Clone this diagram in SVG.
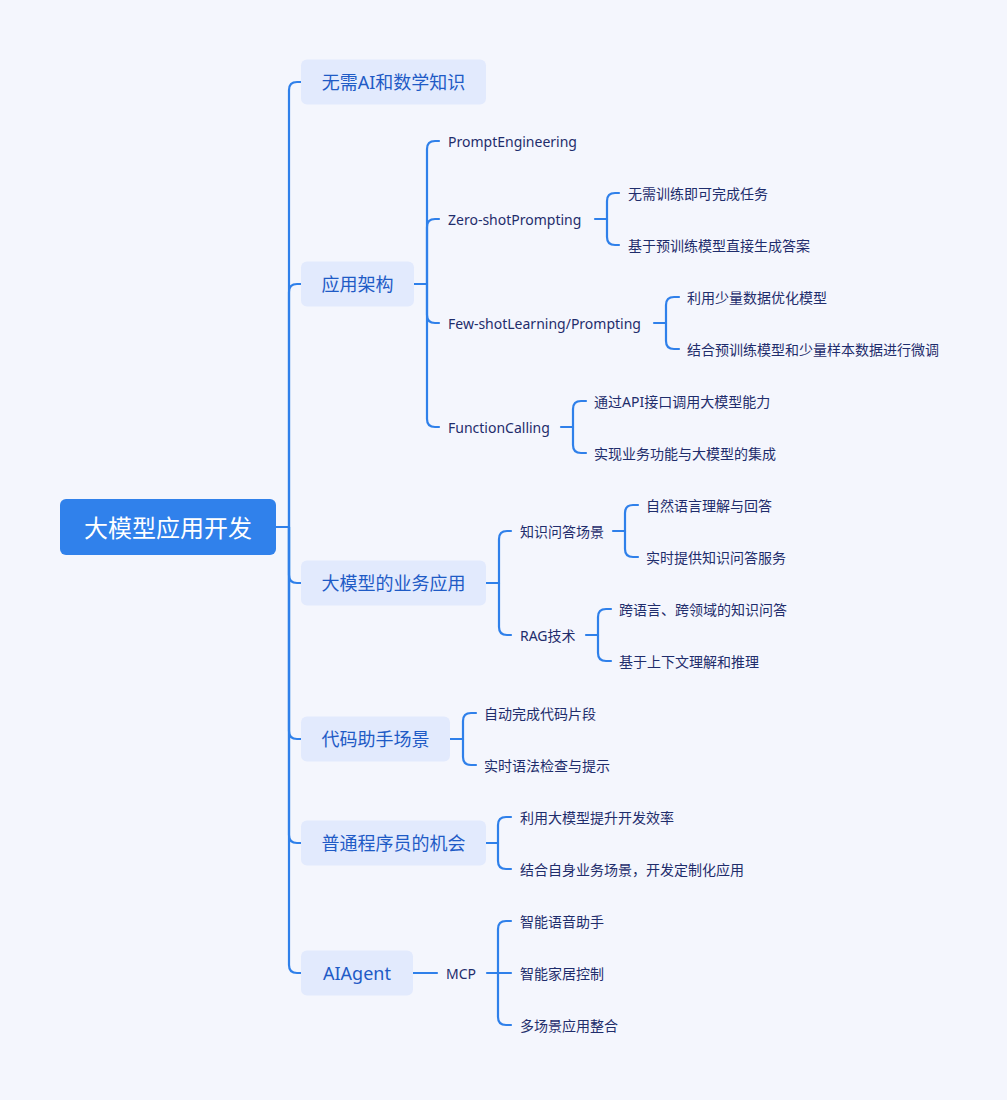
<svg xmlns="http://www.w3.org/2000/svg" width="1007" height="1100" viewBox="0 0 1007 1100">
<style>
.bg{fill:#f4f6fd}
.root{fill:#3081eb}
.box{fill:#e2eafd}
.rt{font-family:"Noto Sans","Noto Sans CJK SC",sans-serif;font-size:24px;fill:#ffffff;text-anchor:middle;dominant-baseline:central}
.l1{font-family:"Noto Sans","Noto Sans CJK SC",sans-serif;font-size:18px;fill:#1f5bc6;text-anchor:middle;dominant-baseline:central}
.lf{font-family:"Noto Sans","Noto Sans CJK SC",sans-serif;font-size:14px;fill:#1f2d6c;dominant-baseline:central}
.ln{fill:none;stroke:#2f80ea;stroke-width:2.2;stroke-linecap:round}
</style>
<rect class="bg" x="0" y="0" width="1007" height="1100"/>
<g id="connectors">
<!-- root to level 1 -->
<path class="ln" d="M276,527 H289"/>
<path class="ln" d="M289,527 V90 Q289,82 297,82 H301"/>
<path class="ln" d="M289,527 V292 Q289,284 297,284 H301"/>
<path class="ln" d="M289,527 V575 Q289,583 297,583 H301"/>
<path class="ln" d="M289,527 V731 Q289,739 297,739 H301"/>
<path class="ln" d="M289,527 V835 Q289,843 297,843 H301"/>
<path class="ln" d="M289,527 V965 Q289,973 297,973 H301"/>
<!-- 应用架构 -->
<path class="ln" d="M414,284 H427"/>
<path class="ln" d="M427,284 V149 Q427,141 435,141 H439"/>
<path class="ln" d="M427,284 V227 Q427,219 435,219 H439"/>
<path class="ln" d="M427,284 V315 Q427,323 435,323 H439"/>
<path class="ln" d="M427,284 V419 Q427,427 435,427 H439"/>
<!-- Zero-shot -->
<path class="ln" d="M595,219 H607"/>
<path class="ln" d="M607,219 V201 Q607,193 615,193 H619"/>
<path class="ln" d="M607,219 V237 Q607,245 615,245 H619"/>
<!-- Few-shot -->
<path class="ln" d="M654,323 H666"/>
<path class="ln" d="M666,323 V305 Q666,297 674,297 H679"/>
<path class="ln" d="M666,323 V341 Q666,349 674,349 H679"/>
<!-- FunctionCalling -->
<path class="ln" d="M561,427 H573"/>
<path class="ln" d="M573,427 V409 Q573,401 581,401 H586"/>
<path class="ln" d="M573,427 V445 Q573,453 581,453 H586"/>
<!-- 业务应用 -->
<path class="ln" d="M486,583 H499"/>
<path class="ln" d="M499,583 V539 Q499,531 507,531 H511"/>
<path class="ln" d="M499,583 V627 Q499,635 507,635 H511"/>
<!-- 知识问答场景 -->
<path class="ln" d="M613,531 H625"/>
<path class="ln" d="M625,531 V513 Q625,505 633,505 H638"/>
<path class="ln" d="M625,531 V549 Q625,557 633,557 H638"/>
<!-- RAG技术 -->
<path class="ln" d="M586,635 H598"/>
<path class="ln" d="M598,635 V617 Q598,609 606,609 H611"/>
<path class="ln" d="M598,635 V653 Q598,661 606,661 H611"/>
<!-- 代码助手场景 -->
<path class="ln" d="M450,739 H463"/>
<path class="ln" d="M463,739 V721 Q463,713 471,713 H476"/>
<path class="ln" d="M463,739 V757 Q463,765 471,765 H476"/>
<!-- 普通程序员的机会 -->
<path class="ln" d="M486,843 H498"/>
<path class="ln" d="M498,843 V825 Q498,817 506,817 H511"/>
<path class="ln" d="M498,843 V861 Q498,869 506,869 H511"/>
<!-- AIAgent -->
<path class="ln" d="M413,973 H437"/>
<path class="ln" d="M487,973 H498"/>
<path class="ln" d="M498,973 V929 Q498,921 506,921 H511"/>
<path class="ln" d="M498,973 H511"/>
<path class="ln" d="M498,973 V1017 Q498,1025 506,1025 H511"/>
</g>
<g id="root"><rect class="root" x="60" y="499" width="216" height="56" rx="6"/><text class="rt" x="168" y="527">大模型应用开发</text></g>
<g id="n1"><rect class="box" x="301" y="59.5" width="185" height="45" rx="6"/><text class="l1" x="393.5" y="82">无需AI和数学知识</text></g>
<g id="n2"><rect class="box" x="301" y="261.5" width="113" height="45" rx="6"/><text class="l1" x="357.5" y="284">应用架构</text></g>
<g id="n3"><rect class="box" x="301" y="560.5" width="185" height="45" rx="6"/><text class="l1" x="393.5" y="583">大模型的业务应用</text></g>
<g id="n4"><rect class="box" x="301" y="716.5" width="149" height="45" rx="6"/><text class="l1" x="375.5" y="739">代码助手场景</text></g>
<g id="n5"><rect class="box" x="301" y="820.5" width="185" height="45" rx="6"/><text class="l1" x="393.5" y="843">普通程序员的机会</text></g>
<g id="n6"><rect class="box" x="301" y="950.5" width="112" height="45" rx="6"/><text class="l1" x="357" y="973">AIAgent</text></g>
<g id="n2a"><text class="lf" x="448" y="141">PromptEngineering</text></g>
<g id="n2b"><text class="lf" x="448" y="219">Zero-shotPrompting</text></g>
<g id="n2b1"><text class="lf" x="628" y="193">无需训练即可完成任务</text></g>
<g id="n2b2"><text class="lf" x="628" y="245">基于预训练模型直接生成答案</text></g>
<g id="n2c"><text class="lf" x="448" y="323">Few-shotLearning/Prompting</text></g>
<g id="n2c1"><text class="lf" x="687" y="297">利用少量数据优化模型</text></g>
<g id="n2c2"><text class="lf" x="687" y="349">结合预训练模型和少量样本数据进行微调</text></g>
<g id="n2d"><text class="lf" x="448" y="427">FunctionCalling</text></g>
<g id="n2d1"><text class="lf" x="594" y="401">通过API接口调用大模型能力</text></g>
<g id="n2d2"><text class="lf" x="594" y="453">实现业务功能与大模型的集成</text></g>
<g id="n3a"><text class="lf" x="520" y="531">知识问答场景</text></g>
<g id="n3a1"><text class="lf" x="646" y="505">自然语言理解与回答</text></g>
<g id="n3a2"><text class="lf" x="646" y="557">实时提供知识问答服务</text></g>
<g id="n3b"><text class="lf" x="520" y="635">RAG技术</text></g>
<g id="n3b1"><text class="lf" x="619" y="609">跨语言、跨领域的知识问答</text></g>
<g id="n3b2"><text class="lf" x="619" y="661">基于上下文理解和推理</text></g>
<g id="n4a"><text class="lf" x="484" y="713">自动完成代码片段</text></g>
<g id="n4b"><text class="lf" x="484" y="765">实时语法检查与提示</text></g>
<g id="n5a"><text class="lf" x="520" y="817">利用大模型提升开发效率</text></g>
<g id="n5b"><text class="lf" x="520" y="869">结合自身业务场景，开发定制化应用</text></g>
<g id="n6a"><text class="lf" x="446" y="973">MCP</text></g>
<g id="n6a1"><text class="lf" x="520" y="921">智能语音助手</text></g>
<g id="n6a2"><text class="lf" x="520" y="973">智能家居控制</text></g>
<g id="n6a3"><text class="lf" x="520" y="1025">多场景应用整合</text></g>
</svg>
